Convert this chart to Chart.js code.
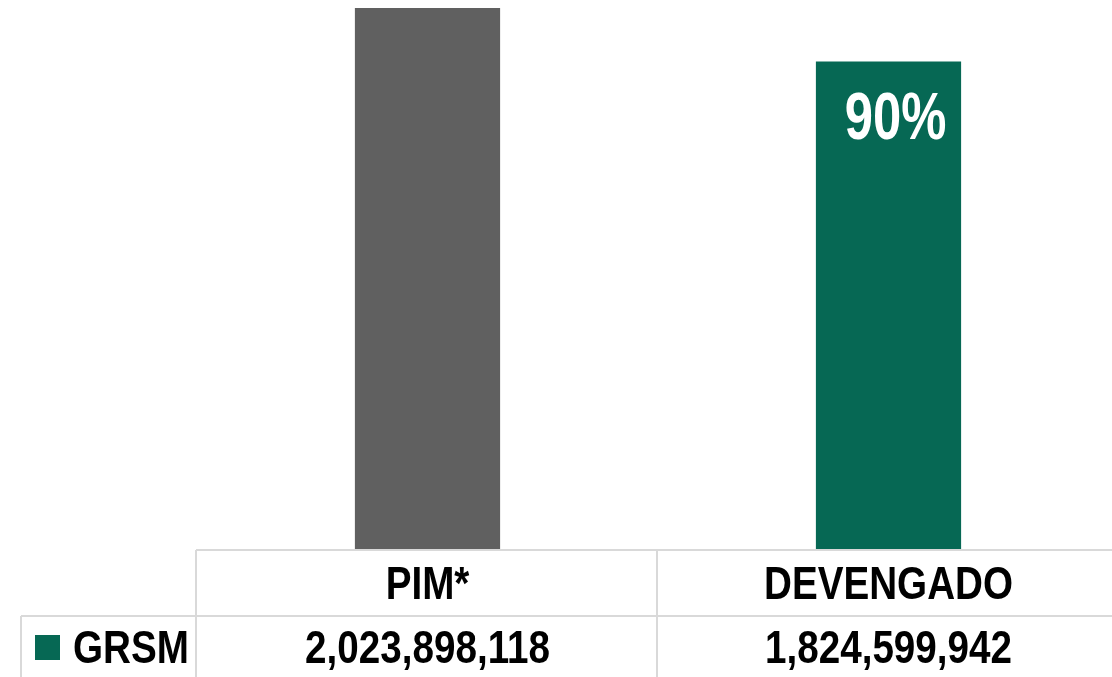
<!DOCTYPE html>
<html>
<head>
<meta charset="utf-8">
<script src="https://cdn.jsdelivr.net/npm/chart.js@4"></script>
<style>
  html, body { margin: 0; padding: 0; background: #fff; }
  #wrap { width: 1112px; height: 677px; overflow: hidden; position: relative; }
  canvas { display: block; }
</style>
</head>
<body>
<div id="wrap"><canvas id="chart" width="1120" height="677"></canvas></div>
<script>
// datos del gráfico
const categories = ["PIM*", "DEVENGADO"];
const seriesName = "GRSM";
const grsmValues = [2023898118, 1824599942];
const barLabels = ["", "90%"];
const yMax = 2054000000;

const barColors = ["#606060", "#066854"];
const gridColor = "#d9d9d9";
const font = '"Liberation Sans", Arial, sans-serif';

// texto bold estrecho (tipo Arial Narrow) escalando en horizontal
function narrowText(ctx, text, x, y, size, sx, align) {
    ctx.save();
    ctx.font = "bold " + size + "px " + font;
    ctx.textAlign = align;
    ctx.textBaseline = "alphabetic";
    ctx.scale(sx, 1);
    ctx.fillText(text, x / sx, y);
    ctx.restore();
}

// tabla de datos debajo del gráfico (Chart.js no la trae)
const dataTable = {
    id: "dataTable",
    afterDraw(chart) {
        const ctx = chart.ctx;
        const x = chart.scales.x;
        const area = chart.chartArea;
        const rowH = 66;
        const top = area.bottom;
        const mid = top + rowH;
        const right = chart.width;
        const catW = x.width / categories.length;

        ctx.save();
        ctx.strokeStyle = gridColor;
        ctx.lineWidth = 2;
        ctx.beginPath();
        ctx.moveTo(x.left - 1, top); ctx.lineTo(right, top);
        ctx.moveTo(21, mid); ctx.lineTo(right, mid);
        ctx.moveTo(21, mid); ctx.lineTo(21, chart.height);
        for (let i = 0; i <= categories.length; i++) {
            const bx = x.left - 1 + i * catW;
            ctx.moveTo(bx, top); ctx.lineTo(bx, chart.height);
        }
        ctx.stroke();

        ctx.fillStyle = "#000";
        categories.forEach((c, i) => {
            const cx = x.getPixelForValue(i);
            narrowText(ctx, c, cx, top + 49, 46, 0.84, "center");
            narrowText(ctx, grsmValues[i].toLocaleString("en-US"), cx, mid + 47, 46, 0.84, "center");
        });

        // leyenda
        ctx.fillStyle = barColors[1];
        ctx.fillRect(35, 635, 25, 25);
        ctx.fillStyle = "#000";
        narrowText(ctx, seriesName, 73, mid + 47, 46, 0.84, "left");

        // etiqueta dentro de la barra
        const meta = chart.getDatasetMeta(0);
        ctx.fillStyle = "#fff";
        meta.data.forEach((bar, i) => {
            if (barLabels[i]) narrowText(ctx, barLabels[i], bar.x + 7, bar.y + 78, 66, 0.77, "center");
        });
        ctx.restore();
    }
};

new Chart(document.getElementById("chart"), {
    type: "bar",
    data: {
        labels: categories,
        datasets: [{
            label: seriesName,
            data: grsmValues,
            backgroundColor: barColors,
            categoryPercentage: 1,
            barPercentage: 0.315
        }]
    },
    options: {
        responsive: false,
        animation: false,
        layout: { padding: { left: 197, right: 1, top: 0, bottom: 127 } },
        plugins: { legend: { display: false }, tooltip: { enabled: false } },
        scales: {
            x: { display: false },
            y: { display: false, min: 0, max: yMax }
        }
    },
    plugins: [dataTable]
});
</script>
</body>
</html>
